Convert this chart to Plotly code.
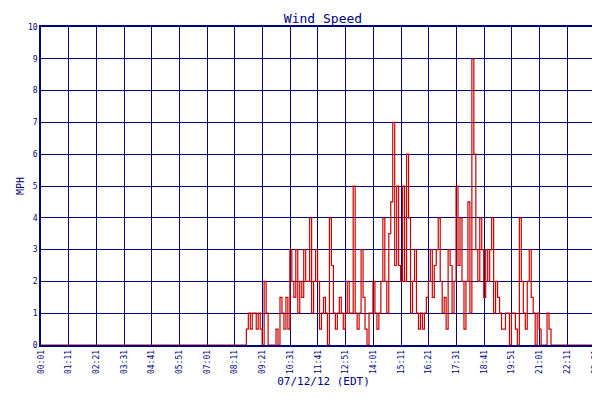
import plotly.graph_objects as go

start_min = 8 * 60 + 40
speeds = [
    0.5, 1, 0.5, 1,
    1, 0.5, 1, 0.5, 0, 2, 1, 0, 0, 0, 0, 0.5,
    0, 1.5, 1, 0.5, 1.5, 0.5, 3, 2, 1.5, 3, 1, 2,
    1.5, 3, 2, 2, 4, 1, 2, 3, 2, 0.5, 1, 1.5,
    1, 0, 4, 2.5, 1, 0.5, 1, 1.5, 1, 0.5, 1, 2,
    1, 1, 5, 1, 0.5, 1, 3, 1.5, 0.5, 0, 1, 1,
    2, 1, 0.5, 1, 2, 4, 2, 1, 3.5, 4.5, 7, 2.5,
    5, 2.5, 2, 5, 2, 6, 4, 1, 2, 3, 1, 0.5,
    1, 0.5, 1, 1.5, 2, 3, 1.5, 2.5, 3, 4, 2, 1,
    1.5, 0.5, 3, 2.5, 1, 2, 5, 2.5, 4, 2, 0.5, 2,
    4.5, 1, 9, 6, 3, 2, 4, 3, 1.5, 3, 2, 3,
    4, 1, 2, 1.5, 1, 0.5, 0.5, 1, 1, 0, 1, 1,
    0.5, 0, 4, 2, 1, 0.5, 2, 3, 1.5, 1, 0, 1,
    0.5, 0, 0, 0, 1, 0.5, 0,
]
tick_labels = ["00:01", "01:11", "02:21", "03:31", "04:41", "05:51", "07:01", "08:11",
               "09:21", "10:31", "11:41", "12:51", "14:01", "15:11", "16:21", "17:31",
               "18:41", "19:51", "21:01", "22:11", "23:21", "23:49"]

minutes = [1] + [start_min + 5 * i for i in range(len(speeds))] + [1429]
values = [0] + speeds + [0]
tick_vals = [int(t[:2]) * 60 + int(t[3:]) for t in tick_labels]

navy = "#000080"
fig = go.Figure()
fig.add_trace(go.Scatter(x=minutes, y=values, mode="lines", name="Wind Speed",
                         line=dict(color="#cc0000", width=1.2, shape="hv")))

fig.update_layout(
    width=600, height=400, plot_bgcolor="white", paper_bgcolor="white",
    margin=dict(l=33, r=2, t=19, b=63, autoexpand=False),
    title=dict(text="Wind Speed", x=0.525, y=0.985, xanchor="center", yanchor="top",
               font=dict(family="DejaVu Sans Mono", size=13, color=navy)),
    font=dict(family="DejaVu Sans Mono", size=8, color=navy),
    showlegend=True,
    legend=dict(orientation="h", x=0.5, xanchor="center", y=-0.17, yanchor="top",
                font=dict(size=8, color=navy)),
)
fig.update_xaxes(range=[1, 1429], tickvals=tick_vals, ticktext=tick_labels, tickangle=-90,
                 automargin=False, showgrid=True, gridcolor=navy, gridwidth=1.2, zeroline=False,
                 showline=True, linecolor=navy, mirror=True, linewidth=1.5,
                 title=dict(text="07/12/12 (EDT)", font=dict(size=11, color=navy), standoff=4))
fig.update_yaxes(range=[0, 10], dtick=1, showgrid=True, gridcolor=navy, gridwidth=1.2,
                 automargin=False, zeroline=False, showline=True, linecolor=navy, mirror=True,
                 linewidth=1.5, title=dict(text="MPH", font=dict(size=10, color=navy), standoff=2))

fig.write_html("out.html")
